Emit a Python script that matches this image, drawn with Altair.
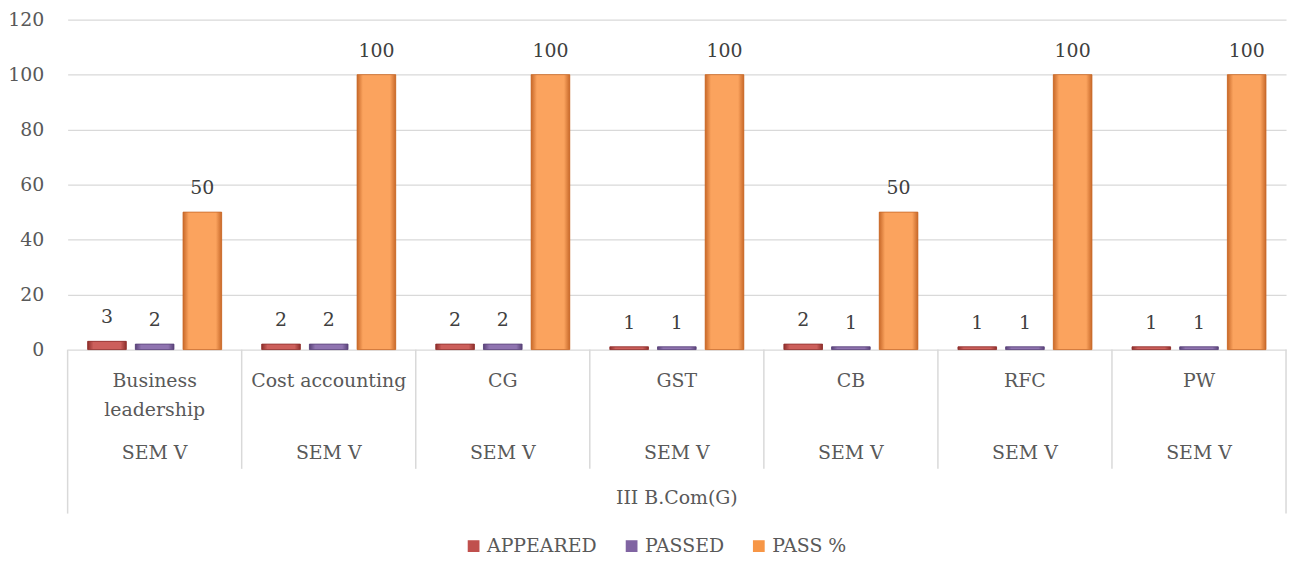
import altair as alt
import pandas as pd

subjects = ["Business leadership", "Cost accounting", "CG", "GST", "CB", "RFC", "PW"]
subject_labels = ["Business\nleadership", "Cost accounting", "CG", "GST", "CB", "RFC", "PW"]
semester = ["SEM V"] * 7
group_label = "III B.Com(G)"
series = ["APPEARED", "PASSED", "PASS %"]
appeared = [3, 2, 2, 1, 2, 1, 1]
passed = [2, 2, 2, 1, 1, 1, 1]
pass_pct = [50, 100, 100, 100, 50, 100, 100]
colors = ["#C0504D", "#8064A2", "#F79646"]
y_ticks = [0, 20, 40, 60, 80, 100, 120]

FONT = "DejaVu Serif"
FS = 19
TXT = "#595959"
W, H = 1226, 332

rows = []
for i, s in enumerate(subjects):
    for name, vals in zip(series, [appeared, passed, pass_pct]):
        rows.append({"subject": s, "series": name, "value": vals[i]})
df = pd.DataFrame(rows)

lab_df = pd.DataFrame({"subject": subjects, "label": subject_labels, "sem": semester})
sep_df = pd.DataFrame({"subject": subjects[1:]})
outer_df = pd.DataFrame({"subject": subjects[:1]})
grp_df = pd.DataFrame({"g": [group_label]})

xscale = alt.Scale(domain=subjects, paddingInner=0, paddingOuter=0)
xoff = alt.XOffset("series:N", scale=alt.Scale(domain=series, paddingInner=0.19, paddingOuter=0.42))
yscale = alt.Scale(domain=[0, 120], nice=False)

x_enc = alt.X("subject:N", scale=xscale, axis=None)
y_enc = alt.Y("value:Q", scale=yscale,
              axis=alt.Axis(values=y_ticks, title=None, domain=False, ticks=False,
                            gridColor="#d9d9d9", gridWidth=1.3, labelFont=FONT,
                            labelFontSize=FS, labelColor=TXT, labelPadding=24))

bars = alt.Chart(df).mark_bar().encode(
    x=x_enc,
    xOffset=xoff,
    y=y_enc,
    color=alt.Color("series:N", scale=alt.Scale(domain=series, range=colors),
                    legend=alt.Legend(orient="none", legendX=399, legendY=520,
                                      direction="horizontal", columns=3, title=None,
                                      symbolType="square", symbolSize=140,
                                      symbolStrokeWidth=0, labelFont=FONT,
                                      labelFontSize=FS, labelColor=TXT,
                                      columnPadding=25, labelOffset=4)),
)

shades = {
    "APPEARED": ("#8e2f2c", "#cc5f5b"),
    "PASSED": ("#5a4379", "#8f74b0"),
    "PASS %": ("#c8692a", "#fba35e"),
}

def grad(dark, light):
    return alt.Gradient(
        gradient="linear", x1=0, x2=1, y1=0, y2=0,
        stops=[alt.GradientStop(color=dark, offset=0),
               alt.GradientStop(color=light, offset=0.15),
               alt.GradientStop(color=light, offset=0.85),
               alt.GradientStop(color=dark, offset=1)])

shade_layers = []
for name in series:
    dark, light = shades[name]
    shade_layers.append(
        alt.Chart(df).transform_filter(alt.datum.series == name)
        .mark_bar(color=grad(dark, light), stroke=dark, strokeWidth=0.8)
        .encode(x=x_enc, xOffset=xoff, y=alt.Y("value:Q", scale=yscale))
    )

values_txt = alt.Chart(df).mark_text(font=FONT, fontSize=FS, color="#404040",
                                     baseline="middle", dy=-24).encode(
    x=x_enc, xOffset=xoff, y=alt.Y("value:Q", scale=yscale), text="value:Q")

subj_txt = alt.Chart(lab_df).mark_text(font=FONT, fontSize=FS, color=TXT,
                                       baseline="alphabetic", lineBreak="\n",
                                       lineHeight=29).encode(
    x=x_enc, y=alt.value(H + 38), text="label:N")

sem_txt = alt.Chart(lab_df).mark_text(font=FONT, fontSize=FS, color=TXT,
                                      baseline="alphabetic").encode(
    x=x_enc, y=alt.value(H + 110), text="sem:N")

grp_txt = alt.Chart(grp_df).mark_text(font=FONT, fontSize=FS, color=TXT,
                                      baseline="alphabetic").encode(
    x=alt.value(W / 2), y=alt.value(H + 155), text="g:N")

sep = alt.Chart(sep_df).mark_rule(color="#d9d9d9", strokeWidth=1.5).encode(
    x=alt.X("subject:N", scale=xscale, axis=None, bandPosition=0),
    y=alt.value(H), y2=alt.value(H + 120))

outer_l = alt.Chart(outer_df).mark_rule(color="#d9d9d9", strokeWidth=1.5).encode(
    x=alt.X("subject:N", scale=xscale, axis=None, bandPosition=0),
    y=alt.value(H), y2=alt.value(H + 165))

outer_r = alt.Chart(outer_df).mark_rule(color="#d9d9d9", strokeWidth=1.5).encode(
    x=alt.value(W), y=alt.value(H), y2=alt.value(H + 165))

chart = alt.layer(bars, *shade_layers, values_txt, subj_txt, sem_txt, grp_txt,
                  sep, outer_l, outer_r).properties(
    width=W, height=H,
    autosize=alt.AutoSizeParams(type="none"),
    padding={"left": 60, "top": 10, "right": 4, "bottom": 210},
).configure_view(stroke=None).configure_legend(labelFont=FONT)

chart.save("out.html", embed_options={"renderer": "svg", "actions": False})
